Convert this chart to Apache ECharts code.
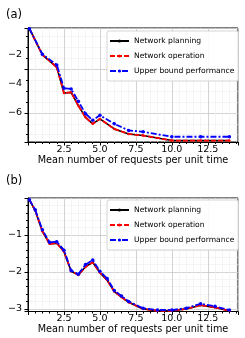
<!DOCTYPE html>
<html><head><meta charset="utf-8">
<script src="https://cdn.jsdelivr.net/npm/echarts@6/dist/echarts.min.js"></script>
<style>html,body{margin:0;padding:0;background:#fff}#c{width:245px;height:338px}</style>
</head><body><div id="c"></div>
<script>
// ---- data ----
const seriesNames = ["Network planning", "Network operation", "Upper bound performance"];
const xA = [0.1, 1, 2, 2.5, 3, 3.5, 4, 4.5, 5, 6, 7, 8, 10, 12, 14];
const planningA = [-0.2, -2.0, -2.85, -4.63, -4.58, -5.5, -6.3, -6.75, -6.41, -7.1, -7.45, -7.55, -7.9, -7.9, -7.9];
const operationA = [-0.2, -2.0, -2.85, -4.63, -4.58, -5.5, -6.3, -6.75, -6.41, -7.1, -7.45, -7.55, -7.9, -7.9, -7.9];
const upperA = [-0.2, -1.95, -2.69, -4.3, -4.35, -5.2, -6.05, -6.5, -6.16, -6.75, -7.2, -7.3, -7.64, -7.64, -7.64];

const xB = [0.1, 0.5, 1, 1.5, 2, 2.5, 3, 3.5, 4, 4.5, 5, 5.5, 6, 6.5, 7, 8, 9, 10, 11, 12, 13, 14];
const planningB = [-0.05, -0.34, -0.9, -1.24, -1.22, -1.45, -1.98, -2.08, -1.86, -1.74, -2.02, -2.22, -2.53, -2.68, -2.82, -3.0, -3.05, -3.05, -3.0, -2.9, -2.96, -3.05];
const operationB = [-0.05, -0.34, -0.9, -1.24, -1.22, -1.45, -1.98, -2.08, -1.86, -1.74, -2.02, -2.22, -2.53, -2.68, -2.82, -3.0, -3.05, -3.05, -3.0, -2.9, -2.96, -3.05];
const upperB = [-0.05, -0.32, -0.86, -1.2, -1.18, -1.41, -1.96, -2.06, -1.8, -1.68, -1.98, -2.18, -2.5, -2.65, -2.8, -2.98, -3.03, -3.03, -2.98, -2.86, -2.93, -3.03];

const yTicksA = [-6, -4, -2];
const yTicksB = [-3, -2, -1];
const panelLabels = ["(a)", "(b)"];
const xTitle = "Mean number of requests per unit time";
const yTitle = "Utility";

// ---- chart ----
const F = "DejaVu Sans";
const zip = (xs, ys) => xs.map((x, i) => [x, ys[i]]);
const chart = echarts.init(document.getElementById('c'), null, {renderer: 'canvas'});

function xAxis(gi) {
  return {
    type: 'value', gridIndex: gi, min: 0, max: 14.6, interval: 2.5,
    name: xTitle, nameLocation: 'middle', nameGap: 12,
    nameTextStyle: {fontFamily: F, fontSize: 9.7, color: '#000'},
    axisLine: {show: true, onZero: false, lineStyle: {color: '#000', width: 1}},
    axisTick: {show: true, inside: false, length: 3.5, lineStyle: {color: '#000'}},
    minorTick: {show: true, splitNumber: 5, length: 2, lineStyle: {color: '#000'}},
    axisLabel: {showMinLabel: false, showMaxLabel: false, fontFamily: F, fontSize: 9.5, color: '#000', margin: 2.5,
      formatter: v => v.toFixed(1)},
    splitLine: {show: true, lineStyle: {color: '#c8c8c8', width: 0.8}},
    minorSplitLine: {show: true, lineStyle: {color: '#eeeeee', width: 0.6}}
  };
}
function yAxis(gi, mn, mx, ticks, minorN) {
  return {
    type: 'value', gridIndex: gi, min: mn, max: mx, splitNumber: 3,
    name: yTitle, nameLocation: 'middle', nameGap: 18, nameRotate: 90,
    nameTextStyle: {fontFamily: F, fontSize: 9.7, color: '#000'},
    axisLine: {show: true, onZero: false, lineStyle: {color: '#000', width: 1}},
    axisTick: {show: true, inside: false, length: 3.5, lineStyle: {color: '#000'}},
    minorTick: {show: true, splitNumber: minorN, length: 2, lineStyle: {color: '#000'}},
    axisLabel: {customValues: ticks, fontFamily: F, fontSize: 9.5, color: '#000', margin: 6,
      formatter: v => (v < 0 ? '\u2212' + Math.abs(v) : String(v))},
    splitLine: {show: true, lineStyle: {color: '#c8c8c8', width: 0.8}},
    minorSplitLine: {show: true, lineStyle: {color: '#eeeeee', width: 0.6}}
  };
}
function mkSeries(gi, xs, p, o, u) {
  return [
    {name: seriesNames[0], type: 'line', xAxisIndex: gi, yAxisIndex: gi, data: zip(xs, p),
     lineStyle: {color: '#000', width: 1.6}, itemStyle: {color: '#000'}, symbol: 'none', z: 2, animation: false},
    {name: seriesNames[1], type: 'line', xAxisIndex: gi, yAxisIndex: gi, data: zip(xs, o),
     lineStyle: {color: '#ff0000', width: 1.8, type: [5, 2]}, itemStyle: {color: '#ff0000'}, symbol: 'circle', symbolSize: 2.5, z: 3, animation: false},
    {name: seriesNames[2], type: 'line', xAxisIndex: gi, yAxisIndex: gi, data: zip(xs, u),
     lineStyle: {color: '#0000ff', width: 1.8, type: [6, 2, 2, 2]}, itemStyle: {color: '#0000ff'}, symbol: 'circle', symbolSize: 3.5, z: 4, animation: false}
  ];
}
function legend(top) {
  return {
    show: true, orient: 'vertical', left: 107, top: top,
    padding: [6, 4, 6, 2], itemGap: 7, itemWidth: 19, itemHeight: 4,
    borderColor: '#cccccc', borderWidth: 0.8, borderRadius: 2, backgroundColor: 'rgba(255,255,255,0.9)',
    textStyle: {fontFamily: F, fontSize: 7.6, lineHeight: 8, color: '#000', padding: [0, 0, 0, 0]},
    data: seriesNames.map(n => ({name: n}))
  };
}
function grid(top, h) {
  return {left: 28, top: top, width: 210, height: h, containLabel: false, outerBoundsMode: 'none',
    show: true, borderColor: '#000', borderWidth: 1, backgroundColor: 'transparent'};
}

chart.setOption({
  animation: false,
  backgroundColor: '#fff',
  title: [
    {text: panelLabels[0], left: 1, top: 4, textStyle: {fontFamily: F, fontSize: 11.5, fontWeight: 'normal', color: '#000'}},
    {text: panelLabels[1], left: 1, top: 170, textStyle: {fontFamily: F, fontSize: 11.5, fontWeight: 'normal', color: '#000'}}
  ],
  grid: [grid(28, 114), grid(198, 113.5)],
  legend: [legend(31), legend(200)],
  xAxis: [xAxis(0), xAxis(1)],
  yAxis: [yAxis(0, -8, -0.15, yTicksA, 4), yAxis(1, -3.07, 0, yTicksB, 5)],
  series: [].concat(mkSeries(0, xA, planningA, operationA, upperA), mkSeries(1, xB, planningB, operationB, upperB))
});
</script></body></html>
